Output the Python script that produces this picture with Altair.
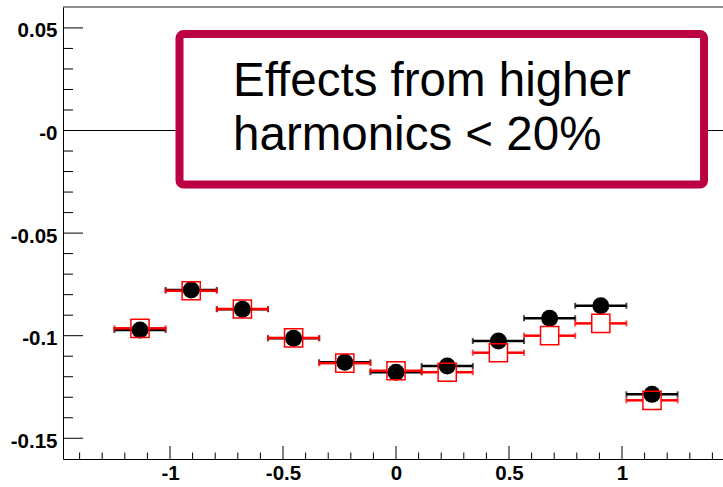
import altair as alt
import pandas as pd

# Bin centres (x) and the two series of measured values
x_centers = [-1.1328, -0.9062, -0.6797, -0.4531, -0.2266, 0.0,
             0.2266, 0.4531, 0.6797, 0.9062, 1.1328]
x_halfwidth = [0.1133] * 11
black_vals = [-0.0972, -0.0777, -0.0871, -0.1013, -0.1130, -0.1178,
              -0.1148, -0.1026, -0.0915, -0.0854, -0.1286]
red_vals = [-0.0964, -0.0781, -0.0870, -0.1011, -0.1134, -0.1171,
            -0.1178, -0.1083, -0.1000, -0.0940, -0.1315]

# Axis ranges and ticks
X_DOMAIN = [-1.4735, 1.4469]
Y_DOMAIN = [-0.1601, 0.0602]
x_major = [-1.0, -0.5, 0.0, 0.5, 1.0]
x_minor = [-1.4, -1.3, -1.2, -1.1, -0.9, -0.8, -0.7, -0.6, -0.4, -0.3, -0.2, -0.1,
           0.1, 0.2, 0.3, 0.4, 0.6, 0.7, 0.8, 0.9, 1.1, 1.2, 1.3, 1.4]
y_major = [0.05, 0.0, -0.05, -0.1, -0.15]
y_minor = [0.04, 0.03, 0.02, 0.01, -0.01, -0.02, -0.03, -0.04, -0.06, -0.07, -0.08,
           -0.09, -0.11, -0.12, -0.13, -0.14]

# Annotation box (data coordinates) and its text
box = {"x0": -0.958, "x1": 1.363, "y0": 0.0470, "y1": -0.0263}
note_lines = ["Effects from higher", "harmonics < 20%"]
note_x = -0.721
note_y = [0.0168, -0.0093]

W, H = 660, 452
FONT = "Liberation Sans"
BOX_COLOR = "#bb0044"
LABEL_SIZE = 20.5

xs = alt.Scale(domain=X_DOMAIN, nice=False, zero=False)
ys = alt.Scale(domain=Y_DOMAIN, nice=False, zero=False)

xaxis = alt.Axis(
    values=x_major, title=None, ticks=False, tickSize=0, grid=False,
    labelFont=FONT, labelFontSize=LABEL_SIZE, labelFontWeight="bold", labelColor="black",
    labelPadding=4, domainColor="black", domainWidth=1,
    labelExpr="(datum.value < 0 ? '-' : '') + format(abs(datum.value), '~g')",
)
yaxis = alt.Axis(
    values=y_major, title=None, ticks=False, tickSize=0, grid=False,
    labelFont=FONT, labelFontSize=LABEL_SIZE, labelFontWeight="bold", labelColor="black",
    labelPadding=6, labelOffset=3, domainColor="black", domainWidth=1,
    labelExpr="datum.value == 0 ? '-0' : (datum.value < 0 ? '-' : '') + format(abs(datum.value), '~g')",
)


def X(field):
    return alt.X(field, type="quantitative", scale=xs, axis=xaxis)


def Y(field):
    return alt.Y(field, type="quantitative", scale=ys, axis=yaxis)


df = pd.DataFrame({
    "x": x_centers,
    "lo": [c - h for c, h in zip(x_centers, x_halfwidth)],
    "hi": [c + h for c, h in zip(x_centers, x_halfwidth)],
    "black": black_vals,
    "red": red_vals,
})

# Frame and zero line
zero_line = alt.Chart(pd.DataFrame({"v": [0.0]})).mark_rule(
    color="black", strokeWidth=1).encode(y=Y("v"))
top_line = alt.Chart(pd.DataFrame({"v": [Y_DOMAIN[1]]})).mark_rule(
    color="#222222", strokeWidth=1).encode(y=Y("v"))

# Inward-pointing ticks
ymaj = alt.Chart(pd.DataFrame({"v": y_major})).mark_rule(color="black", strokeWidth=1).encode(
    y=Y("v"), x=alt.value(0), x2=alt.value(20))
ymin = alt.Chart(pd.DataFrame({"v": y_minor})).mark_rule(color="black", strokeWidth=1).encode(
    y=Y("v"), x=alt.value(0), x2=alt.value(10))
xmaj = alt.Chart(pd.DataFrame({"v": x_major})).mark_rule(color="black", strokeWidth=1).encode(
    x=X("v"), y=alt.value(H), y2=alt.value(H - 13))
xmin = alt.Chart(pd.DataFrame({"v": x_minor})).mark_rule(color="black", strokeWidth=1).encode(
    x=X("v"), y=alt.value(H), y2=alt.value(H - 6.5))

# Annotation box with text
box_layer = alt.Chart(pd.DataFrame([box])).mark_rect(
    fill="white", stroke=BOX_COLOR, strokeWidth=8, cornerRadius=4
).encode(x=X("x0"), x2="x1", y=Y("y0"), y2="y1")
note_layer = alt.Chart(pd.DataFrame({"t": note_lines, "x": [note_x] * 2, "y": note_y})).mark_text(
    align="left", baseline="alphabetic", font=FONT, fontSize=47.5, color="black"
).encode(x=X("x"), y=Y("y"), text="t:N")

# Black series: filled circles with horizontal error bars
base = alt.Chart(df)
black_bar = base.mark_rule(color="black", strokeWidth=2.5).encode(x=X("lo"), x2="hi", y=Y("black"))
black_cap_lo = base.mark_tick(color="black", orient="vertical", size=6, thickness=2).encode(x=X("lo"), y=Y("black"))
black_cap_hi = base.mark_tick(color="black", orient="vertical", size=6, thickness=2).encode(x=X("hi"), y=Y("black"))
black_pts = base.mark_point(shape="circle", filled=True, size=289, color="black", opacity=1).encode(
    x=X("x"), y=Y("black"))

# Red series: open squares, error bars stop at the marker edge
red_bar_l = base.mark_rule(color="#ff0000", strokeWidth=2.5, x2Offset=-9.5).encode(x=X("lo"), x2="x", y=Y("red"))
red_bar_r = base.mark_rule(color="#ff0000", strokeWidth=2.5, xOffset=9.5).encode(x=X("x"), x2="hi", y=Y("red"))
red_cap_lo = base.mark_tick(color="#ff0000", orient="vertical", size=6, thickness=2).encode(x=X("lo"), y=Y("red"))
red_cap_hi = base.mark_tick(color="#ff0000", orient="vertical", size=6, thickness=2).encode(x=X("hi"), y=Y("red"))
red_pts = base.mark_point(shape="square", filled=False, size=330, color="#ff0000",
                          strokeWidth=1.5, opacity=1).encode(x=X("x"), y=Y("red"))

chart = alt.layer(
    zero_line, box_layer, note_layer, top_line, ymaj, ymin, xmaj, xmin,
    black_bar, black_cap_lo, black_cap_hi, black_pts,
    red_bar_l, red_bar_r, red_cap_lo, red_cap_hi, red_pts,
).properties(
    width=W, height=H,
    autosize=alt.AutoSizeParams(type="none"),
    padding={"left": 63, "top": 7, "right": 0, "bottom": 28},
    background="white",
).configure_view(stroke=None)

chart.save("out.html", embed_options={"renderer": "svg", "actions": False})
